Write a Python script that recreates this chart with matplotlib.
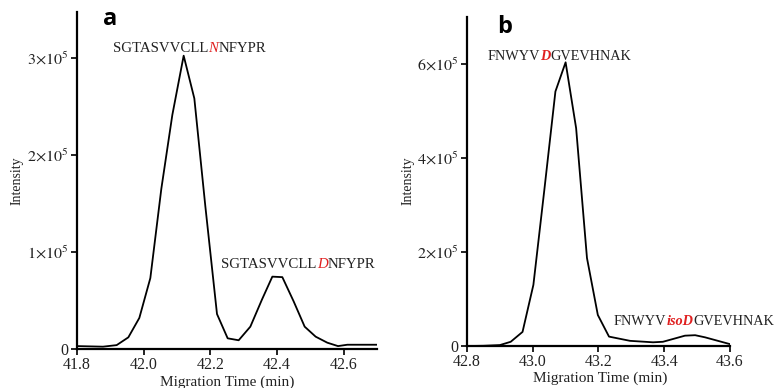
import matplotlib
matplotlib.use('Agg')
import matplotlib.pyplot as plt

plt.rcParams['font.family'] = ['Liberation Serif', 'DejaVu Serif']
plt.rcParams['mathtext.fontset'] = 'stix'

# Peak a: SGTASVVCLLNNFYPR / SGTASVVCLLDNFYPR
time_a = [41.80, 41.878, 41.919, 41.954, 41.987, 42.020, 42.053, 42.086, 42.120,
          42.152, 42.185, 42.220, 42.252, 42.285, 42.320, 42.355, 42.386, 42.416,
          42.450, 42.483, 42.516, 42.551, 42.583, 42.611, 42.70]
intensity_a = [3.0e3, 2.4e3, 4.0e3, 1.2e4, 3.2e4, 7.3e4, 1.65e5, 2.41e5, 3.02e5,
               2.58e5, 1.47e5, 3.6e4, 1.1e4, 9.0e3, 2.3e4, 5.1e4, 7.45e4, 7.4e4,
               4.9e4, 2.3e4, 1.27e4, 6.5e3, 3.0e3, 4.4e3, 4.4e3]

# Peak b: FNWYVDGVEVHNAK / FNWYVisoDGVEVHNAK
time_b = [42.80, 42.85, 42.90, 42.933, 42.969, 43.002, 43.035, 43.069, 43.100,
          43.132, 43.165, 43.198, 43.232, 43.296, 43.366, 43.396, 43.427, 43.463,
          43.494, 43.524, 43.60]
intensity_b = [0.0, 5.0e2, 2.0e3, 9.0e3, 3.0e4, 1.3e5, 3.3e5, 5.41e5, 6.03e5,
               4.63e5, 1.87e5, 6.6e4, 2.0e4, 1.1e4, 7.9e3, 9.0e3, 1.5e4, 2.2e4,
               2.3e4, 1.85e4, 4.0e3]

xticks_a = [41.8, 42.0, 42.2, 42.4, 42.6]
yticks_a = [0, 1e5, 2e5, 3e5]
ylabels_a = ['0', r'$1{\times}10^{5}$', r'$2{\times}10^{5}$', r'$3{\times}10^{5}$']
xticks_b = [42.8, 43.0, 43.2, 43.4, 43.6]
yticks_b = [0, 2e5, 4e5, 6e5]
ylabels_b = ['0', r'$2{\times}10^{5}$', r'$4{\times}10^{5}$', r'$6{\times}10^{5}$']

# label pieces: (text, is_red, bold)
label_a1 = [('SGTASVVCLL', False, False), ('N', True, False), ('NFYPR', False, False)]
label_a2 = [('SGTASVVCLL', False, False), ('D', True, False), ('NFYPR', False, False)]
label_b1 = [('FNWYV', False, False), ('D', True, True), ('GVEVHNAK', False, False)]
label_b2 = [('FNWYV', False, False), ('isoD', True, True), ('GVEVHNAK', False, False)]


def peptide_label(fig, ax, x, y, pieces, size):
    # place pieces one after another on the same baseline
    renderer = fig.canvas.get_renderer()
    for txt, red, bold in pieces:
        t = ax.text(x, y, txt, fontsize=size, color='#e02020' if red else '#222222',
                    style='italic' if red else 'normal',
                    weight='bold' if bold else 'normal',
                    va='baseline', ha='left', clip_on=False)
        bb = t.get_window_extent(renderer=renderer)
        x = ax.transData.inverted().transform((bb.x1, 0))[0]


def style_axes(ax, xlim, ylim, xticks, yticks, ylabels):
    ax.set_xlim(*xlim)
    ax.set_ylim(*ylim)
    ax.set_xticks(xticks)
    ax.set_xticklabels(['%.1f' % t for t in xticks])
    ax.set_yticks(yticks)
    ax.set_yticklabels(ylabels)
    for s in ['top', 'right']:
        ax.spines[s].set_visible(False)
    for s in ['left', 'bottom']:
        ax.spines[s].set_linewidth(1.6)
    ax.tick_params(axis='both', direction='out', length=4, width=1.4,
                   labelsize=11.5, colors='#222222', pad=2)


fig = plt.figure(figsize=(7.77, 3.88), dpi=100)
ax_a = fig.add_axes([0.0991, 0.1005, 0.3861, 0.8686])
ax_b = fig.add_axes([0.601, 0.1082, 0.3385, 0.8488])

ax_a.plot(time_a, intensity_a, color='black', lw=1.3)
style_axes(ax_a, (41.8, 42.7), (0, 3.47e5), xticks_a, yticks_a, ylabels_a)
ax_b.plot(time_b, intensity_b, color='black', lw=1.3)
style_axes(ax_b, (42.8, 43.6), (0, 7.0e5), xticks_b, yticks_b, ylabels_b)

peptide_label(fig, ax_a, 41.908, 3.06e5, label_a1, 10.7)
peptide_label(fig, ax_a, 42.233, 0.832e5, label_a2, 10.7)
peptide_label(fig, ax_b, 42.864, 6.07e5, label_b1, 10.3)
peptide_label(fig, ax_b, 43.247, 0.447e5, label_b2, 10.3)

# axis titles
for xc in [17 / 777, 408 / 777]:
    fig.text(xc, 1 - 181 / 388, 'Intensity', rotation=90, ha='center', va='center',
             fontsize=10, color='#222222')
fig.text(227 / 777, 1 - 382 / 388, 'Migration Time (min)', ha='center', va='center',
         fontsize=11, color='#222222')
fig.text(600 / 777, 1 - 378 / 388, 'Migration Time (min)', ha='center', va='center',
         fontsize=11, color='#222222')

# panel letters
fig.text(103 / 777, 1 - 25 / 388, 'a', fontsize=17, weight='bold',
         family='Open Sans', va='baseline')
fig.text(497 / 777, 1 - 33 / 388, 'b', fontsize=17, weight='bold',
         family='Open Sans', va='baseline')

fig.savefig('out.png', dpi=100)
